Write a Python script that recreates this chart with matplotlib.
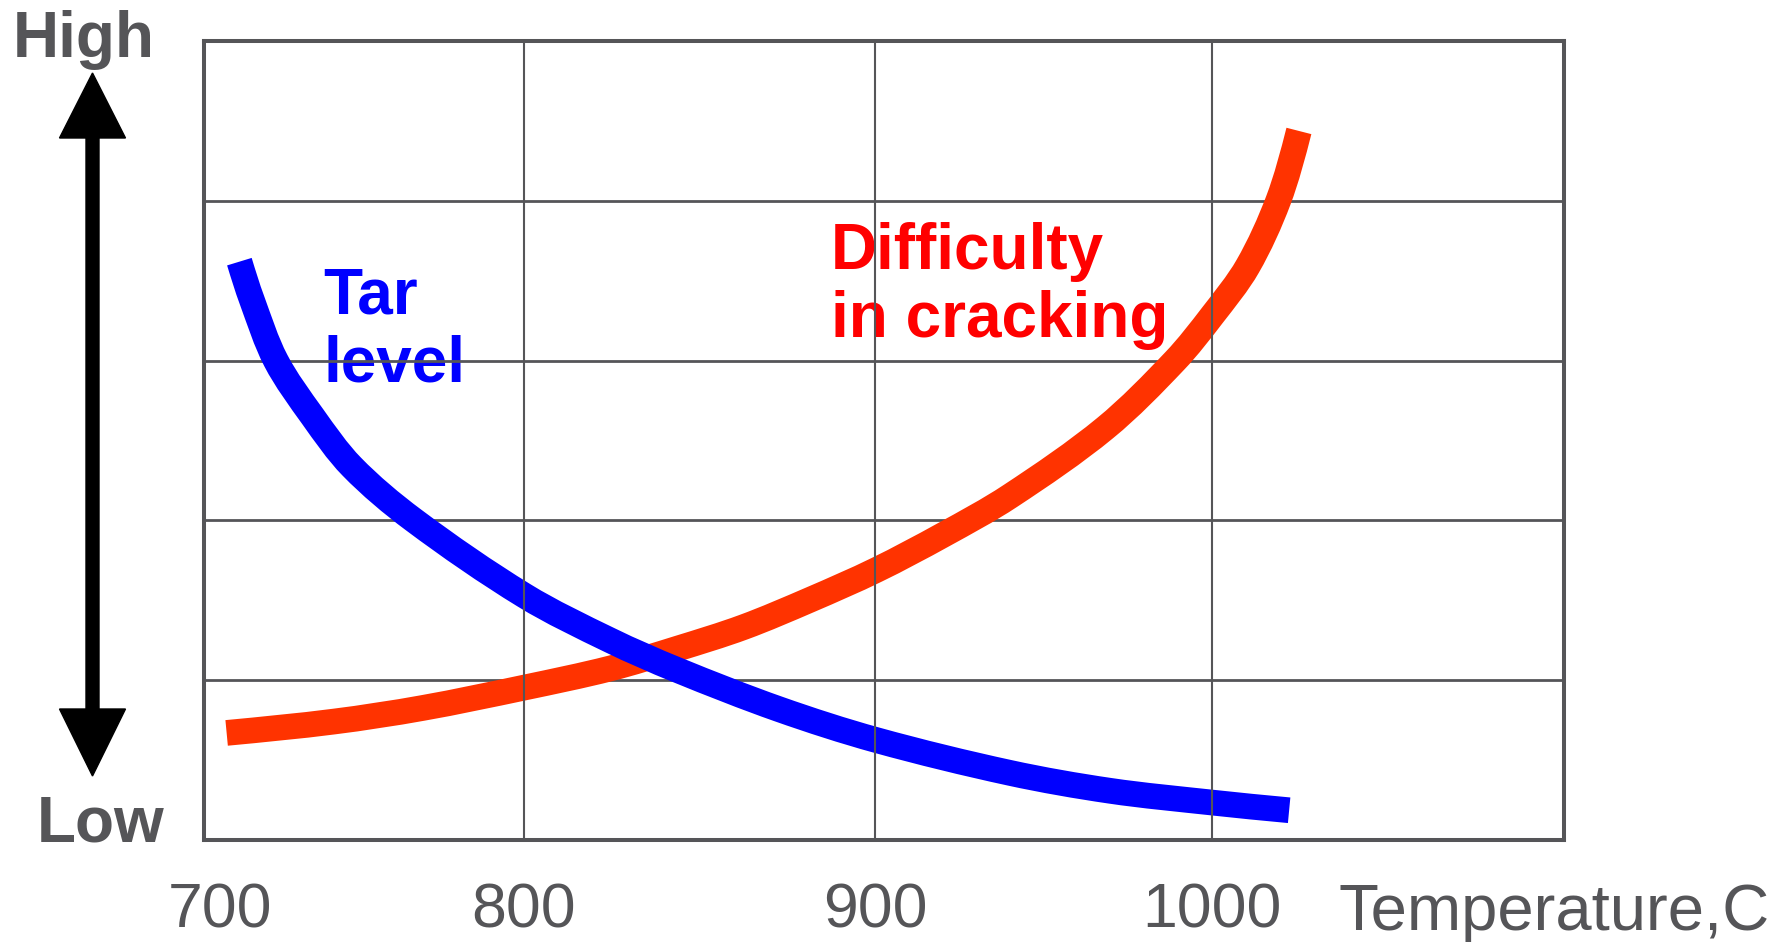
import numpy as np
import matplotlib.pyplot as plt
from matplotlib.patches import Polygon, PathPatch
from matplotlib.path import Path
from matplotlib.transforms import Affine2D

plt.rcParams['font.family'] = ['Liberation Sans', 'DejaVu Sans']

# temperature (C) against a relative level: 0 = low, 5 = high
tar_temp = [706.4, 710.5, 718.4, 730.5, 743.4, 763.7, 800.2, 824.5, 843.5,
            872.5, 900.3, 939.9, 969.6, 1000.0, 1022.8]
tar_level = [3.619, 3.380, 3.000, 2.650, 2.336, 2.003, 1.529, 1.250, 1.065,
             0.819, 0.625, 0.420, 0.308, 0.234, 0.186]

crack_temp = [702.2, 737.5, 766.7, 800.2, 824.5, 843.5, 862.5, 881.4, 900.3,
              920.1, 939.9, 968.2, 988.9, 1000.0, 1010.5, 1019.6, 1025.7]
crack_level = [0.670, 0.741, 0.826, 0.954, 1.073, 1.196, 1.332, 1.503, 1.690,
               1.909, 2.151, 2.578, 2.999, 3.283, 3.590, 4.003, 4.437]

temp_ticks = [700, 800, 900, 1000]
grid_temps = [800, 900, 1000]
grid_levels = [1, 2, 3, 4]

GRAY = '#555558'

# the temperature axis is hand spaced, so map it piecewise
scale_t = [500, 700, 800, 900, 1000, 1300]
scale_p = [-341, 193, 460, 769, 1065, 1953]
LEVEL_PX = 140.4  # one level step, in the same units as scale_p


def fwd(t):
    return np.interp(t, scale_t, scale_p)


def inv(p):
    return np.interp(p, scale_p, scale_t)


def smooth_path(xs, ys):
    # chord-length Hermite spline through the points, drawn as Bezier curves
    p = np.column_stack([fwd(np.asarray(xs, float)),
                         np.asarray(ys, float) * LEVEL_PX])
    d = np.hypot(*np.diff(p, axis=0).T)
    t = np.concatenate([[0], np.cumsum(d)])
    m = np.empty_like(p)
    m[1:-1] = (p[2:] - p[:-2]) / (t[2:] - t[:-2])[:, None]
    m[0] = (3 * (p[1] - p[0]) / d[0] - m[1]) / 2
    m[-1] = (3 * (p[-1] - p[-2]) / d[-1] - m[-2]) / 2
    verts = [p[0]]
    codes = [Path.MOVETO]
    for i in range(len(p) - 1):
        verts += [p[i] + m[i] * d[i] / 3, p[i + 1] - m[i + 1] * d[i] / 3,
                  p[i + 1]]
        codes += [Path.CURVE4] * 3
    verts = np.array(verts)
    verts[:, 1] /= LEVEL_PX
    return Path(verts, codes)


fig = plt.figure(figsize=(17.85, 9.42), dpi=100)
ax = fig.add_axes([0.1143, 0.1083, 0.7619, 0.8482])
ax.set_xscale('function', functions=(fwd, inv))
ax.set_xlim(694.76, 1104.4)
ax.set_ylim(0, 5)

scaled = ax.transLimits + ax.transAxes
for xs, ys, col in [(crack_temp, crack_level, '#FF3300'),
                    (tar_temp, tar_level, '#0000FF')]:
    ax.add_patch(PathPatch(smooth_path(xs, ys), facecolor='none',
                           edgecolor=col, lw=18.5, capstyle='butt',
                           joinstyle='round', transform=scaled, zorder=3))

# horizontal rules run under the curves, vertical ones over them
for lv in grid_levels:
    ax.axhline(lv, color=GRAY, lw=2.0, zorder=2)
for t in grid_temps:
    ax.axvline(t, color=GRAY, lw=1.5, zorder=5)
for s in ax.spines.values():
    s.set_color(GRAY)
    s.set_linewidth(2.9)
    s.set_zorder(6)

ax.set_xticks(temp_ticks)
ax.set_xticklabels([str(t) for t in temp_ticks])
ax.set_yticks([])
ax.tick_params(axis='x', length=0, pad=30, labelsize=45, labelcolor=GRAY)

# pixel coordinates, y measured from the top
px = Affine2D().scale(1 / 1785, -1 / 942).translate(0, 1) + fig.transFigure

fig.text(1338, 930, 'Temperature,C', transform=px, fontsize=47, color=GRAY,
         ha='left', va='baseline')
fig.text(84, 57, 'High', transform=px, fontsize=46, color=GRAY,
         fontweight='bold', ha='center', va='baseline')
fig.text(101, 842, 'Low', transform=px, fontsize=46, color=GRAY,
         fontweight='bold', ha='center', va='baseline')

# curve labels sit below the grid
for y, s in [(313, 'Tar'), (381, 'level')]:
    ax.text(323, y, s, transform=px, fontsize=46, color='#0000FF',
            fontweight='bold', ha='left', va='baseline', zorder=1)
for y, s in [(269, 'Difficulty'), (337, 'in cracking')]:
    ax.text(831, y, s, transform=px, fontsize=46, color='#FF0000',
            fontweight='bold', ha='left', va='baseline', zorder=1)

# double headed arrow between High and Low
arrow = [(92.5, 73), (125.5, 138), (99, 138), (99, 709), (125.5, 709),
         (92.5, 776), (59.5, 709), (86, 709), (86, 138), (59.5, 138)]
fig.patches.append(Polygon(arrow, closed=True, color='black', transform=px))

fig.savefig('out.png', dpi=100)
